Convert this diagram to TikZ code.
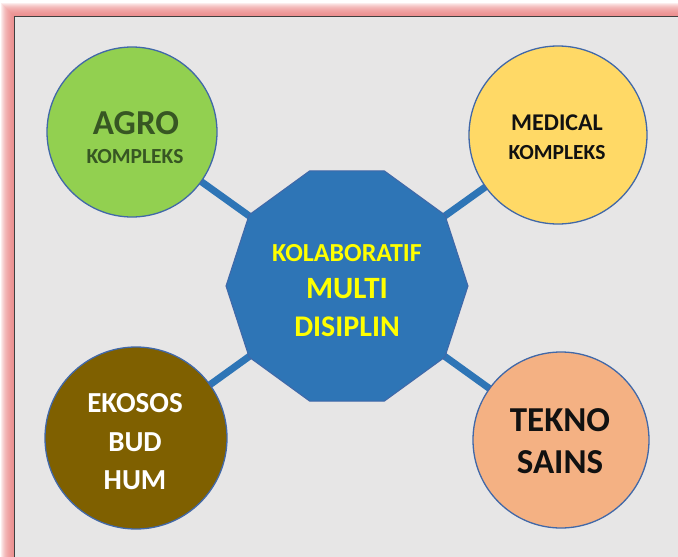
\documentclass[tikz,border=0pt]{standalone}
\usepackage{fontspec}
\setmainfont{Carlito}
\usetikzlibrary{shapes.geometric}
\definecolor{bggray}{HTML}{E7E6E6}
\definecolor{glow}{RGB}{236,130,130}
\definecolor{cgreen}{HTML}{92D050}
\definecolor{cyellow}{HTML}{FFD966}
\definecolor{cbrown}{HTML}{7F6000}
\definecolor{csalmon}{HTML}{F4B183}
\definecolor{cblue}{HTML}{2E75B6}
\definecolor{outl}{HTML}{4168A8}
\definecolor{dgreen}{HTML}{375623}
\definecolor{tblack}{HTML}{111111}
\definecolor{tyellow}{HTML}{FFFF00}
\tikzset{
  circ/.style={circle, draw=outl, line width=1.3pt, inner sep=0pt},
  conn/.style={draw=cblue, line width=7pt},
  deca/.style={regular polygon, regular polygon sides=10, minimum size=242pt, fill=cblue, draw=outl, line width=1pt, inner sep=0pt},
  lbl/.style={inner sep=0pt, font=\bfseries}
}
\begin{document}
\begin{tikzpicture}[x=1pt,y=-1pt]
\useasboundingbox (0,0) rectangle (678,557);
\clip (0,0) rectangle (678,557);
\fill[white] (0,0) rectangle (678,557);
\foreach \k in {13,12,...,1}{
  \fill[glow, opacity=0.14] (14-\k,16-\k) rectangle (720,600);
}
\fill[bggray] (14,16) rectangle (720,600);
\draw[black!75, line width=1pt] (14,600) -- (14,16) -- (720,16);
% centres
\coordinate (cA) at (132,132);
\coordinate (cM) at (558,135);
\coordinate (cE) at (136,438);
\coordinate (cT) at (561,440);
\coordinate (cD) at (347,286);
\draw[conn] (cA) -- (cD);
\draw[conn] (cM) -- (cD);
\draw[conn] (cE) -- (cD);
\draw[conn] (cT) -- (cD);
\node[circ, fill=cgreen, minimum size=170pt] (agro) at (cA) {};
\node[circ, fill=cyellow, minimum size=178pt] (medical) at (cM) {};
\node[circ, fill=cbrown, minimum size=182pt] (ekosos) at (cE) {};
\node[circ, fill=csalmon, minimum size=176pt] (tekno) at (cT) {};
\node[deca] (kolab) at (cD) {};
% texts
\node[lbl, text=dgreen, font=\bfseries\fontsize{35}{35}\selectfont] (t1) at (136,123) {AGRO};
\node[lbl, text=dgreen, font=\bfseries\fontsize{21.5}{21.5}\selectfont] (t2) at (135,157) {KOMPLEKS};
\node[lbl, text=tblack, font=\bfseries\fontsize{24}{24}\selectfont] (t3) at (557,123) {MEDICAL};
\node[lbl, text=tblack, font=\bfseries\fontsize{21.5}{21.5}\selectfont] (t4) at (557,153) {KOMPLEKS};
\node[lbl, text=tyellow, font=\bfseries\fontsize{26}{26}\selectfont] (t5) at (347,253) {KOLABORATIF};
\node[lbl, text=tyellow, font=\bfseries\fontsize{31}{31}\selectfont] (t6) at (347,289) {MULTI};
\node[lbl, text=tyellow, font=\bfseries\fontsize{30}{30}\selectfont] (t7) at (347,327) {DISIPLIN};
\node[lbl, text=white, font=\bfseries\fontsize{29}{29}\selectfont] (t8) at (135,403) {EKOSOS};
\node[lbl, text=white, font=\bfseries\fontsize{29}{29}\selectfont] (t9) at (135,442) {BUD};
\node[lbl, text=white, font=\bfseries\fontsize{29}{29}\selectfont] (t10) at (135,480) {HUM};
\node[lbl, text=tblack, font=\bfseries\fontsize{35}{35}\selectfont] (t11) at (560,420) {TEKNO};
\node[lbl, text=tblack, font=\bfseries\fontsize{35}{35}\selectfont] (t12) at (560,462) {SAINS};
\end{tikzpicture}
\end{document}
